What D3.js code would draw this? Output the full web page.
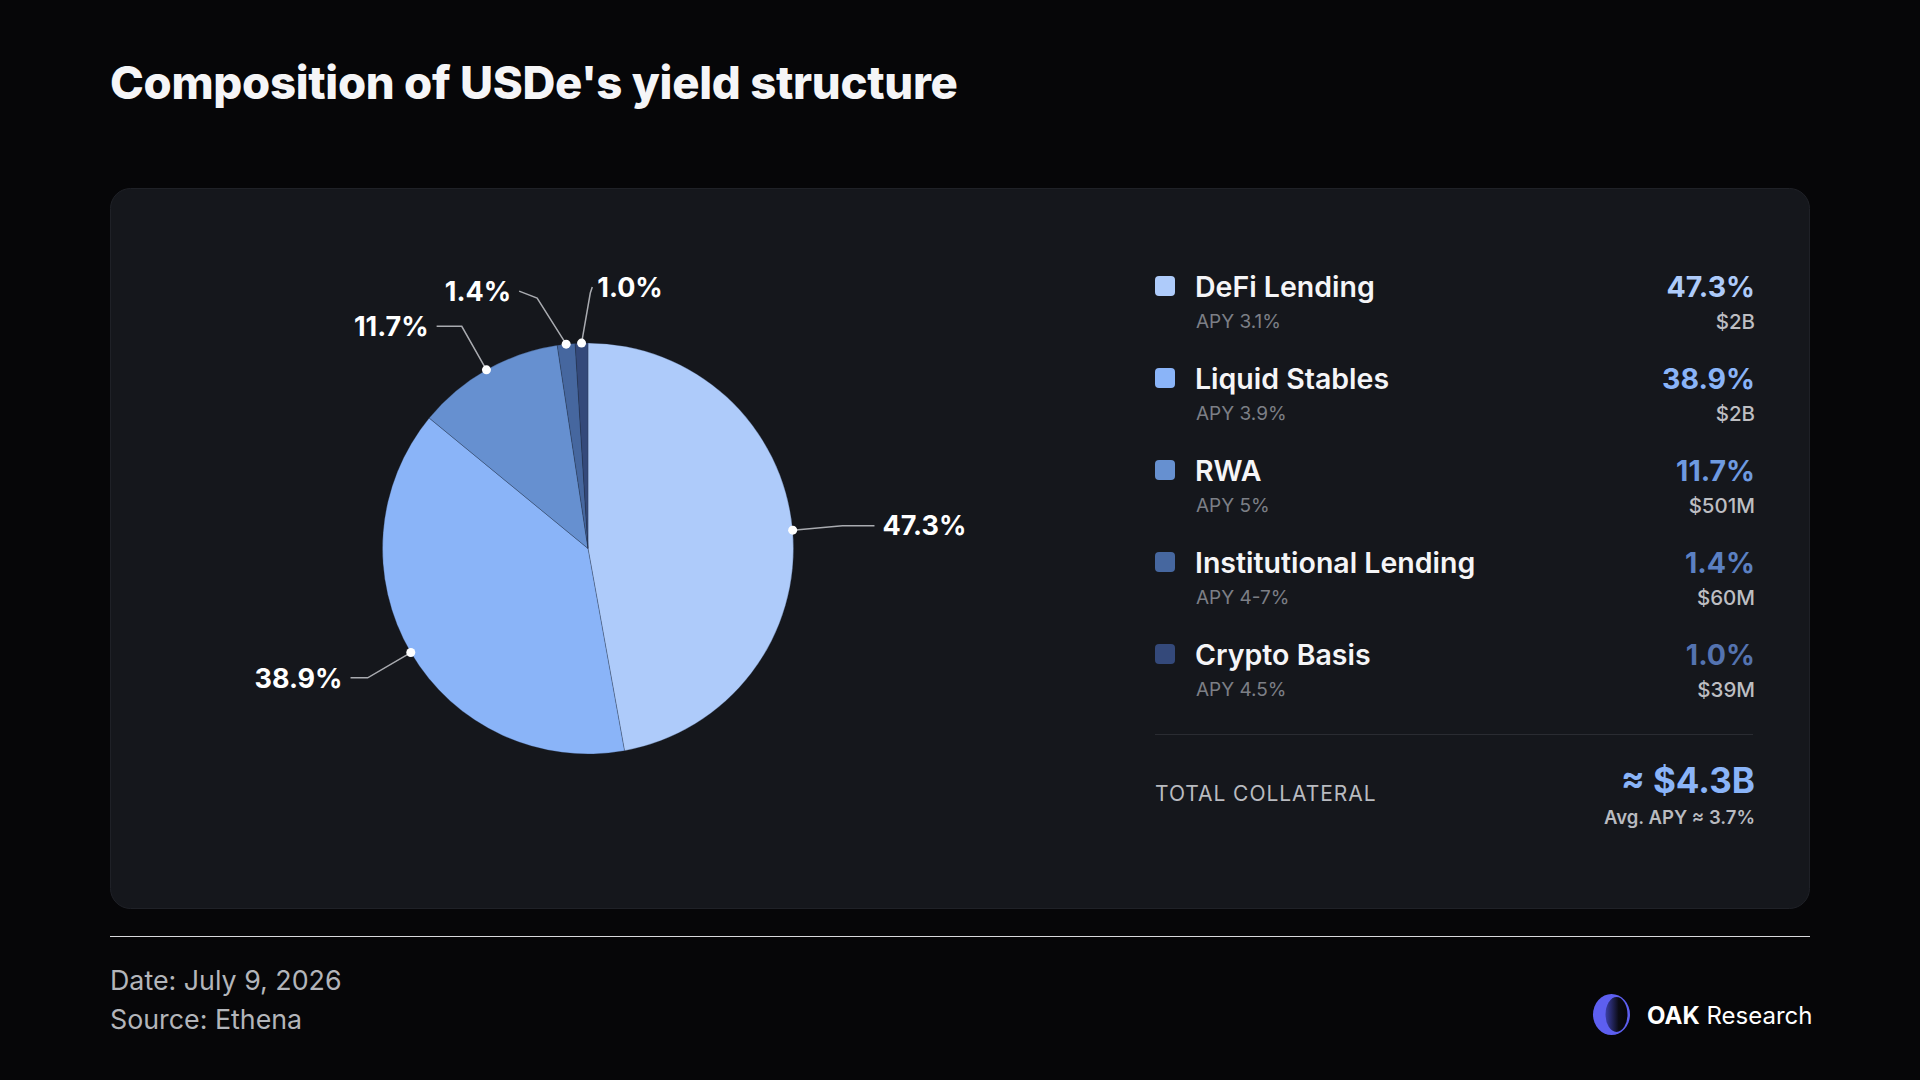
<!DOCTYPE html>
<html>
<head>
<meta charset="utf-8">
<script src="https://cdn.jsdelivr.net/npm/d3@7"></script>
<style>
  html, body { margin: 0; padding: 0; background: #060608; }
  svg { display: block; font-family: Inter, "Noto Sans", sans-serif; }
</style>
</head>
<body>
<svg id="chart" width="1920" height="1080"></svg>
<script>
// ---- data ----
const categories = ["DeFi Lending", "Liquid Stables", "RWA", "Institutional Lending", "Crypto Basis"];
const shares = [47.3, 38.9, 11.7, 1.4, 1.0];
const apyLabels = ["APY 3.1%", "APY 3.9%", "APY 5%", "APY 4-7%", "APY 4.5%"];
const amountLabels = ["$2B", "$2B", "$501M", "$60M", "$39M"];
const totalLabel = "≈ $4.3B";
const avgApyLabel = "Avg. APY ≈ 3.7%";
const titleText = "Composition of USDe's yield structure";
const footerLines = ["Date: July 9, 2026", "Source: Ethena"];

// ---- styles ----
const sliceColors = ["#aecbfa", "#8ab4f8", "#6690d0", "#46679f", "#34497a"];
const pctColors = ["#aecbfa", "#8ab4f8", "#6e9ae0", "#5b80c2", "#5473b0"];

const svg = d3.select("#chart");
svg.append("rect").attr("width", 1920).attr("height", 1080).attr("fill", "#060608");

// title
svg.append("text").attr("x", 110).attr("y", 99)
  .attr("fill", "#f5f5f7").attr("font-size", 45.5).attr("font-weight", 800)
  .attr("letter-spacing", -0.3)
  .text(titleText);

// card
svg.append("rect").attr("x", 110.5).attr("y", 188.5).attr("width", 1699).attr("height", 720)
  .attr("rx", 20).attr("fill", "#15171c").attr("stroke", "#1f2127").attr("stroke-width", 1);

// ---- pie ----
const cx = 588, cy = 548.5, r = 205.5;
const g = svg.append("g").attr("transform", `translate(${cx},${cy})`);
const data = categories.map((c, i) => ({ name: c, value: shares[i], i }));
const pie = d3.pie().sort(null).value(d => d.value);
const arcs = pie(data);
const arc = d3.arc().innerRadius(0).outerRadius(r);

g.selectAll("path.slice").data(arcs).join("path")
  .attr("class", "slice")
  .attr("d", arc)
  .attr("fill", d => sliceColors[d.data.i])
  .attr("stroke", "rgba(30,40,60,0.35)")
  .attr("stroke-width", 0.8);

// label layout: spread crowded label angles, then draw elbow leader lines
const toDeg = a => a * 180 / Math.PI;
const mids = arcs.map(a => toDeg((a.startAngle + a.endAngle) / 2));
const adj = mids.slice();
const minGap = 12;
for (let k = 0; k < 60; k++) {
  for (let i = 1; i < adj.length; i++) {
    const gap = adj[i] - adj[i - 1];
    if (gap < minGap) {
      const s = (minGap - gap) / 2;
      adj[i - 1] -= s * 1.4; adj[i] += s * 0.6;
    }
  }
}
const elbowR = r + 50;
const pt = (deg, rad) => {
  const a = deg * Math.PI / 180;
  return [rad * Math.sin(a), -rad * Math.cos(a)];
};
const labels = arcs.map((a, i) => {
  const rad = adj[i] * Math.PI / 180;
  const dot = pt(mids[i], r);
  const elbow = pt(adj[i], elbowR);
  const right = elbow[0] >= 0;
  const s = Math.abs(Math.sin(rad));
  const c = Math.abs(Math.cos(rad));
  let end, gap;
  if (s < 0.15) {            // near the top: short upward tail
    end = [elbow[0] + (right ? 2 : -2), elbow[1] - 6];
    gap = 5;
  } else if (s < 0.3) {      // steep: tilted tail
    end = [elbow[0] + (right ? 18 : -18), elbow[1] - 7];
    gap = 8;
  } else {
    end = [elbow[0] + (right ? 32 : -(6 + 22 * c)), elbow[1]];
    gap = 8;
  }
  return { dot, elbow, end, right, gap, text: shares[i].toFixed(1) + "%" };
});

g.selectAll("polyline.lead").data(labels).join("polyline")
  .attr("class", "lead")
  .attr("points", d => [d.dot, d.elbow, d.end].map(p => p.join(",")).join(" "))
  .attr("fill", "none").attr("stroke", "#a9abb0").attr("stroke-width", 1.5);

g.selectAll("circle.dot").data(labels).join("circle")
  .attr("class", "dot")
  .attr("cx", d => d.dot[0]).attr("cy", d => d.dot[1]).attr("r", 4.5)
  .attr("fill", "#ffffff");

g.selectAll("text.lbl").data(labels).join("text")
  .attr("class", "lbl")
  .attr("x", d => d.end[0] + (d.right ? d.gap : -d.gap))
  .attr("y", d => d.end[1])
  .attr("dy", "0.36em")
  .attr("text-anchor", d => d.right ? "start" : "end")
  .attr("fill", "#ffffff").attr("font-size", 27).attr("font-weight", 700)
  .text(d => d.text);

// ---- legend ----
const rowY = d3.scalePoint().domain(categories).range([287, 655]);
const lg = svg.append("g");
const rows = lg.selectAll("g.row").data(data).join("g")
  .attr("class", "row")
  .attr("transform", d => `translate(0,${rowY(d.name)})`);

rows.append("rect").attr("x", 1155).attr("y", -11).attr("width", 20).attr("height", 20).attr("rx", 4)
  .attr("fill", d => sliceColors[d.i]);
rows.append("text").attr("x", 1195).attr("y", 10)
  .attr("fill", "#f5f5f7").attr("font-size", 28.5).attr("font-weight", 600)
  .text(d => d.name);
rows.append("text").attr("x", 1196).attr("y", 41)
  .attr("fill", "#7c7f86").attr("font-size", 19).attr("font-weight", 400)
  .text(d => apyLabels[d.i]);
rows.append("text").attr("x", 1755).attr("y", 9.5).attr("text-anchor", "end")
  .attr("fill", d => pctColors[d.i]).attr("font-size", 28.5).attr("font-weight", 700)
  .text(d => shares[d.i].toFixed(1) + "%");
rows.append("text").attr("x", 1755).attr("y", 42).attr("text-anchor", "end")
  .attr("fill", "#bdbec2").attr("font-size", 20.5).attr("font-weight", 500)
  .text(d => amountLabels[d.i]);

// separator + total
svg.append("line").attr("x1", 1155).attr("x2", 1753).attr("y1", 734.5).attr("y2", 734.5)
  .attr("stroke", "#2a2c32").attr("stroke-width", 1);
svg.append("text").attr("x", 1155).attr("y", 801)
  .attr("fill", "#b9bbc0").attr("font-size", 21).attr("font-weight", 400).attr("letter-spacing", 0.95)
  .text("TOTAL COLLATERAL");
svg.append("text").attr("x", 1755).attr("y", 793).attr("text-anchor", "end")
  .attr("fill", "#8ab4f8").attr("font-size", 35).attr("font-weight", 700)
  .text(totalLabel);
svg.append("text").attr("x", 1755).attr("y", 824).attr("text-anchor", "end")
  .attr("fill", "#b9bbc0").attr("font-size", 18.5).attr("font-weight", 600)
  .text(avgApyLabel);

// ---- footer ----
svg.append("line").attr("x1", 110).attr("x2", 1810).attr("y1", 936.5).attr("y2", 936.5)
  .attr("stroke", "#d8d9dc").attr("stroke-width", 1.2);
svg.selectAll("text.foot").data(footerLines).join("text")
  .attr("class", "foot")
  .attr("x", 110).attr("y", (d, i) => 990 + i * 39)
  .attr("fill", "#b3b5ba").attr("font-size", 26.8).attr("font-weight", 400)
  .text(d => d);

// logo
const defs = svg.append("defs");
const grad = defs.append("linearGradient").attr("id", "inner").attr("x1", "0").attr("x2", "1");
grad.append("stop").attr("offset", "0%").attr("stop-color", "#3b3fa8");
grad.append("stop").attr("offset", "60%").attr("stop-color", "#0b0b14");
grad.append("stop").attr("offset", "100%").attr("stop-color", "#060608");
svg.append("ellipse").attr("cx", 1611.5).attr("cy", 1014.5).attr("rx", 18.5).attr("ry", 20.5)
  .attr("fill", "#5d5ff0");
svg.append("ellipse").attr("cx", 1616.5).attr("cy", 1014.5).attr("rx", 11).attr("ry", 17.5)
  .attr("fill", "url(#inner)");
const logoText = svg.append("text").attr("x", 1647).attr("y", 1024)
  .attr("fill", "#ffffff").attr("font-size", 24);
logoText.append("tspan").attr("font-weight", 700).text("OAK");
logoText.append("tspan").attr("font-weight", 400).text(" Research");
</script>
</body>
</html>
